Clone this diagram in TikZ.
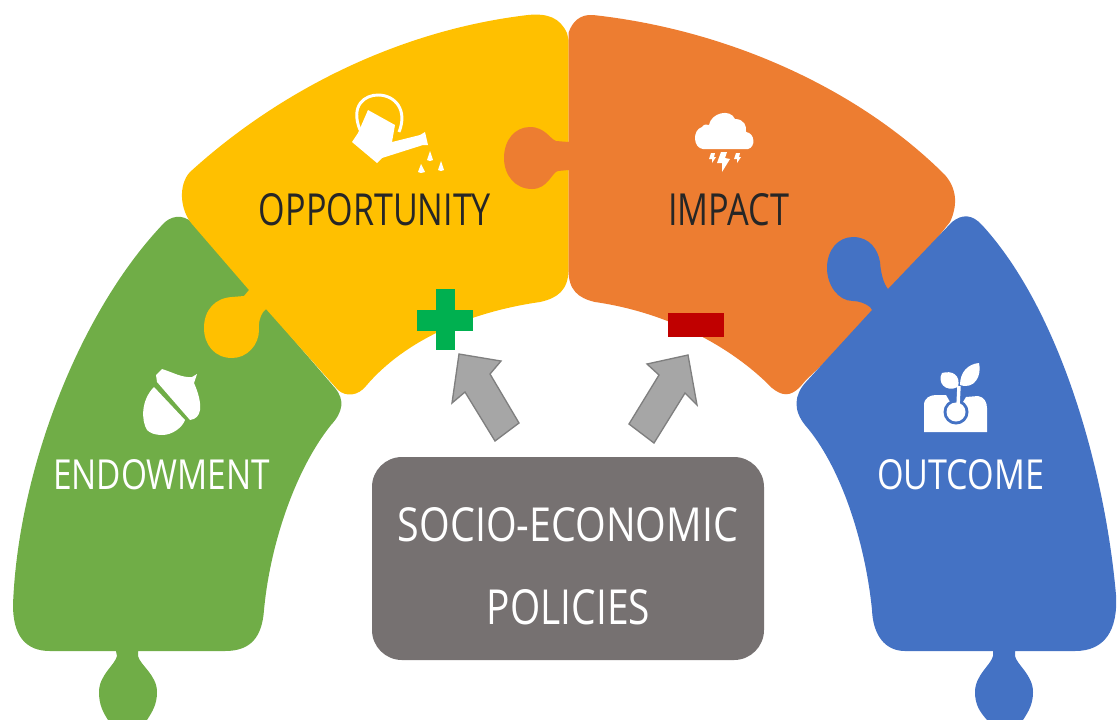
\documentclass[tikz,border=0pt]{standalone}
\usepackage{fontspec}
\usepackage{graphicx}
\setmainfont{Open Sans}
\definecolor{grn}{HTML}{70AD47}
\definecolor{ylw}{HTML}{FFC000}
\definecolor{org}{HTML}{ED7D31}
\definecolor{blu}{HTML}{4472C4}
\definecolor{gry}{HTML}{767171}
\definecolor{arf}{HTML}{A6A6A6}
\definecolor{ard}{HTML}{7F7F7F}
\definecolor{plusc}{HTML}{00B050}
\definecolor{minusc}{HTML}{C00000}
\newcommand{\fitlabel}[3]{\resizebox{#1\dimexpr0.75pt\relax}{#2\dimexpr0.75pt\relax}{#3}}
\tikzset{
  lbl/.style={inner sep=0pt,outer sep=0pt,anchor=center},
  dk/.style={lbl,text=black!85},
  wt/.style={lbl,text=white},
  blockarrow/.style={fill=arf,draw=ard,line width=1pt,line join=miter},
  icon/.style={fill=white,draw=none},
}
\begin{document}
\begin{tikzpicture}[x=0.75pt,y=-0.75pt]
\useasboundingbox (0,0) rectangle (1117,719);
\clip (0,0) rectangle (1117,719);
% green
\fill[grn] (165,222) .. controls (175,214) and (186,215) .. (196,226)
  -- (335,388) .. controls (345,400) and (343,412) .. (331,425)
  .. controls (295,470) and (270,545) .. (264,610)
  .. controls (262,638) and (250,651) .. (225,651)
  -- (138,651) -- (138,656) .. controls (140,665) and (157,675) .. (157,692)
  .. controls (157,705) and (152,712) .. (147,720) -- (108,720)
  .. controls (103,712) and (99,705) .. (99,692)
  .. controls (99,675) and (115,665) .. (117,656) -- (116,651)
  -- (50,651) .. controls (25,651) and (13,635) .. (13,605)
  .. controls (18,470) and (80,310) .. (165,222) -- cycle;
% yellow
\fill[ylw] (190,172) .. controls (280,90) and (400,30) .. (528,15)
  .. controls (548,13) and (560,18) .. (567,33)
  -- (568.6,40) -- (568.6,270) .. controls (568,290) and (558,298) .. (540,302)
  .. controls (470,312) and (405,340) .. (366,386)
  .. controls (358,396) and (346,397) .. (338,390)
  -- (266,309) .. controls (262,312) and (258,320) .. (259,330)
  .. controls (259,345) and (247,358) .. (232,358)
  .. controls (215,358) and (204,345) .. (204,328)
  .. controls (204,310) and (215,298) .. (232,297)
  -- (244,296) -- (249,290)
  -- (192,224) .. controls (180,210) and (178,185) .. (190,172) -- cycle;
% orange
\fill[org] (593,15) .. controls (730,30) and (860,90) .. (945,175)
  .. controls (958,190) and (957,207) .. (950,222)
  -- (880,310) -- (806,380) -- (800,387) .. controls (790,397) and (782,396) .. (772,388)
  .. controls (730,345) and (665,312) .. (595,302)
  .. controls (578,298) and (568.5,290) .. (568.5,270)
  -- (568.5,170) -- (558,171) .. controls (552,172) and (548,189) .. (532,189)
  .. controls (515,189) and (504,175) .. (504,158)
  .. controls (504,140) and (515,127) .. (530,127)
  .. controls (545,127) and (550,139) .. (556,141)
  -- (568.5,142) -- (568.5,33) .. controls (572,22) and (580,14) .. (593,15) -- cycle;
% blue
\fill[blu] (952,222) .. controls (962,214) and (972,214) .. (982,225)
  .. controls (1060,310) and (1105,470) .. (1116,595)
  .. controls (1118,630) and (1105,651) .. (1075,651)
  -- (1015,651) -- (1015,656) .. controls (1017,665) and (1033,675) .. (1033,692)
  .. controls (1033,705) and (1028,712) .. (1023,720) -- (987,720)
  .. controls (980,712) and (975,705) .. (975,692)
  .. controls (975,675) and (991,665) .. (993,656) -- (993,651)
  -- (905,651) .. controls (885,651) and (873,635) .. (872,610)
  .. controls (865,540) and (840,465) .. (805,425)
  .. controls (793,410) and (794,395) .. (806,382)
  -- (872,310) -- (870,307) .. controls (865,303) and (858,301) .. (853,301)
  .. controls (838,301) and (827,285) .. (827,268)
  .. controls (827,250) and (838,237) .. (853,237)
  .. controls (870,237) and (878,250) .. (880,262)
  .. controls (881,275) and (884,284) .. (888,289) -- cycle;
% plus / minus
\fill[plusc] (436,289) rectangle (455,350);
\fill[plusc] (417,310) rectangle (473,331);
\fill[minusc] (668,313) rectangle (724,337);
% policy box
\node[fill=gry,rounded corners=22.5pt,minimum width=294pt,minimum height=152.25pt,inner sep=0pt] (policies) at (568,558.5) {};
% arrows
\draw[blockarrow] (459,354) -- (501,361) -- (490,374) -- (519,423) -- (495,441) -- (465,392) -- (452,403) -- cycle;
\draw[blockarrow] (688,355) -- (697,405) -- (685,393) -- (654,443) -- (629,424) -- (659,375) -- (647,364) -- cycle;
% watering can
\fill[icon] (352,142) -- (358,133) -- (368,110) -- (395,125) -- (392,142) -- (420,135) -- (425,132) -- (428,145) -- (423,145) -- (382,158) -- (377,163) -- cycle;
\draw[white,line width=2.2pt] (360,130) .. controls (350,105) and (365,95) .. (378,95) .. controls (395,95) and (408,110) .. (399,132);
\fill[icon] (430,151) -- (433,160) -- (430,161) -- (427,160) -- cycle;
\fill[icon] (441,161) -- (444,170) -- (441,171) -- (438,170) -- cycle;
\fill[icon] (421,164) -- (425,172) -- (421,173) -- (418,172) -- cycle;
% cloud
\fill[icon] (703,149) .. controls (693,148) and (692,130) .. (702,127) .. controls (704,124) and (707,124) .. (709,125)
  .. controls (711,113) and (730,108) .. (735,119) .. controls (744,119) and (747,126) .. (746,132)
  .. controls (755,133) and (756,147) .. (748,149) -- cycle;
\fill[icon] (711,153) -- (715,153) -- (714,157) -- (716,157) -- (712,163) -- (712,159) -- (709,159) -- cycle;
\fill[icon] (736,153) -- (740,153) -- (739,157) -- (741,157) -- (737,163) -- (737,159) -- (734,159) -- cycle;
\fill[icon] (721,152) -- (727,152) -- (725,158) -- (730,159) -- (722,172) -- (722,163) -- (717,163) -- cycle;
% acorn
\fill[icon] (156,375) -- (162,369) .. controls (172,372) and (182,378) .. (192,377) -- (197,374) -- (194,383) .. controls (198,392) and (201,402) .. (200,410) .. controls (199,416) and (196,419) .. (190,420) -- (157,382) -- cycle;
\fill[icon] (154,387) -- (185,420) .. controls (182,428) and (172,435) .. (162,435) .. controls (155,435) and (150,433) .. (147,430) .. controls (141,420) and (141,400) .. (154,387) -- cycle;
% sprout
\fill[icon] (924,432) -- (924,405) .. controls (924,398) and (930,395) .. (936,395) -- (946,395) -- (950,402)
  -- (963,402) -- (966,397) -- (978,396) .. controls (984,397) and (987,402) .. (987,408) -- (987,432) -- cycle;
\fill[blu] (956,412) circle (12.5);
\fill[icon] (956,412) circle (9.5);
\draw[white,line width=2.6pt] (958,406) -- (959,386);
\fill[icon] (958,387) .. controls (945,393) and (937,382) .. (942,373) .. controls (952,370) and (961,375) .. (958,387) -- cycle;
\fill[icon] (960,385) .. controls (960,372) and (968,364) .. (979,363) .. controls (982,375) and (975,390) .. (960,385) -- cycle;
% labels
\node[dk] (opportunity) at (375,210) {\fitlabel{232}{32}{OPPORTUNITY}};
\node[dk] (impact) at (728.5,210) {\fitlabel{121}{32}{IMPACT}};
\node[wt] (endowment) at (161.5,475) {\fitlabel{217}{30}{ENDOWMENT}};
\node[wt] (outcome) at (960.5,475) {\fitlabel{167}{30}{OUTCOME}};
\node[wt] (socio) at (568,525) {\fitlabel{340}{34}{SOCIO-ECONOMIC}};
\node[wt] (policylbl) at (568.5,607) {\fitlabel{163}{35}{POLICIES}};
\end{tikzpicture}
\end{document}
